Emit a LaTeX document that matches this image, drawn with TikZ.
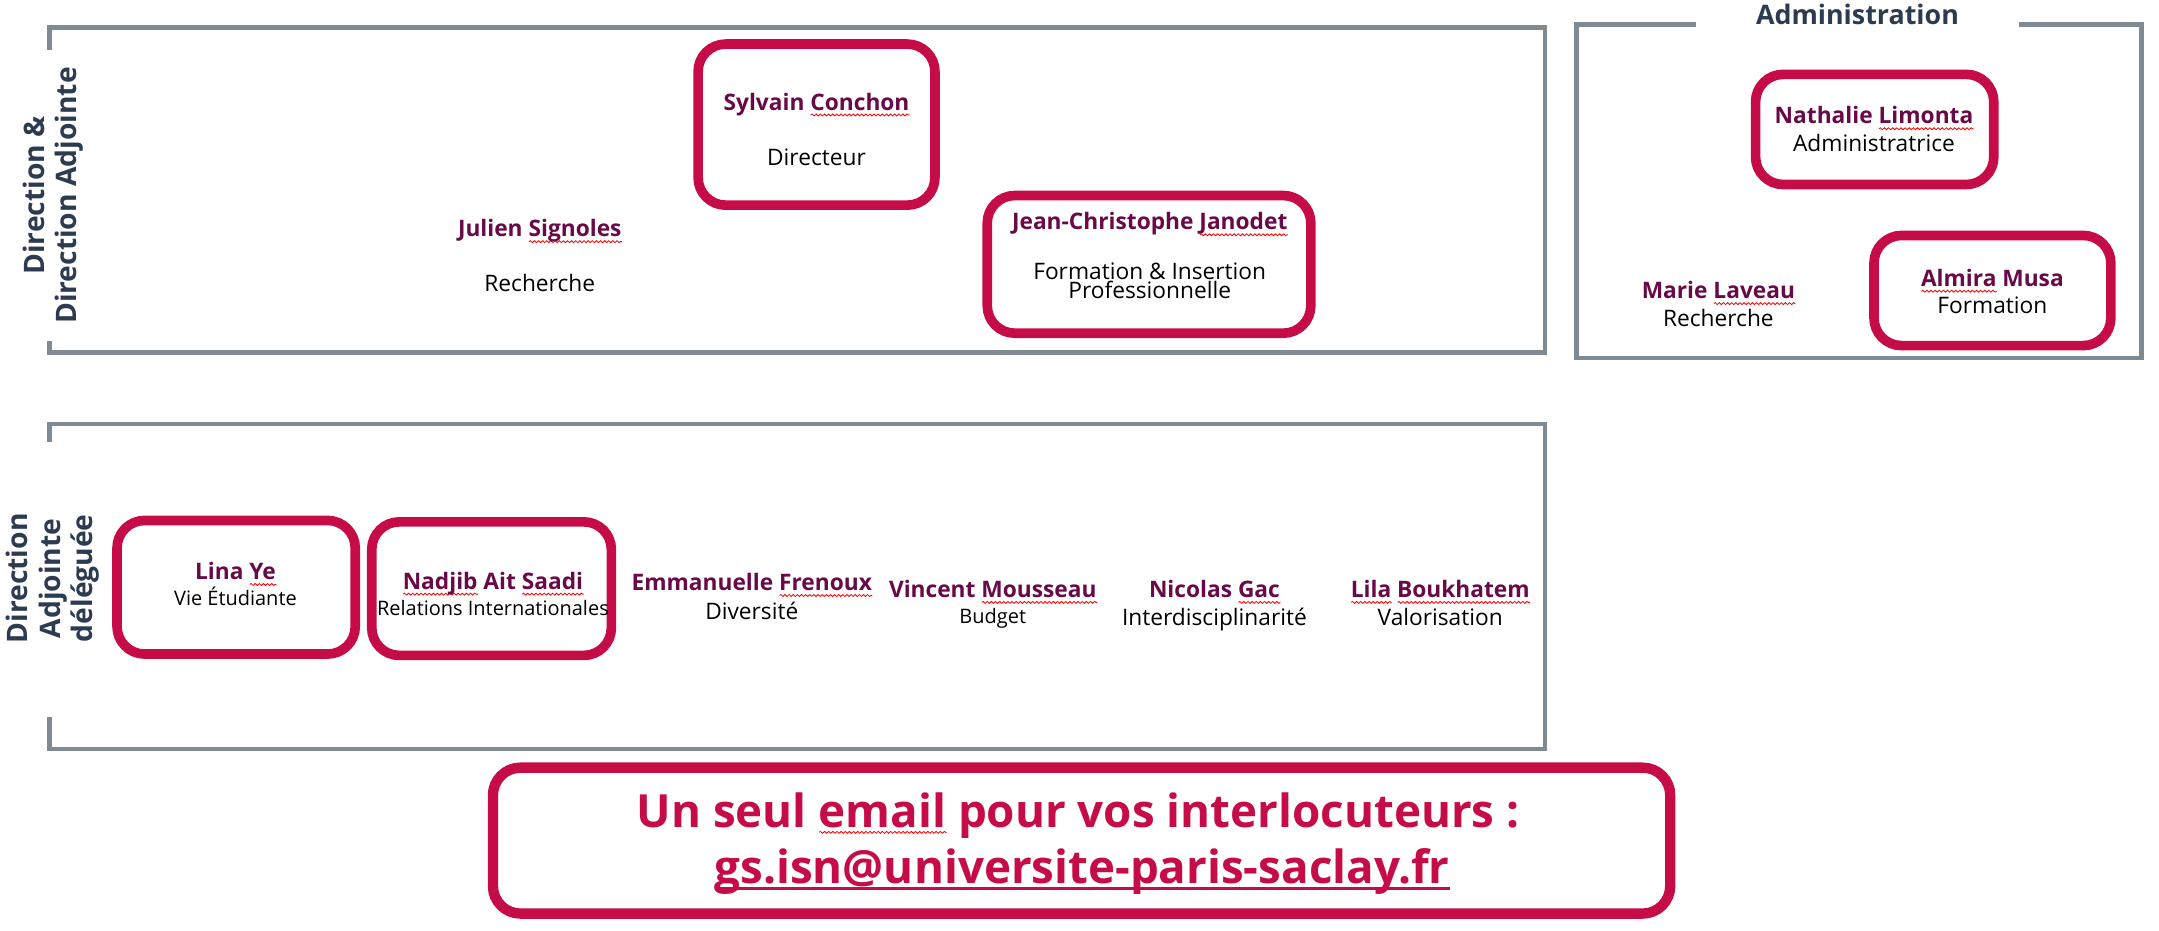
\documentclass[tikz,border=0pt]{standalone}
\usepackage{fontspec}
\setmainfont{Open Sans}
\usetikzlibrary{decorations.pathmorphing}
\definecolor{crim}{HTML}{C60C46}
\definecolor{namec}{HTML}{680A47}
\definecolor{slate}{HTML}{2C3B50}
\definecolor{framec}{HTML}{7F8A93}
\newlength\sqw
\newcommand\sq[1]{\settowidth\sqw{#1}\leavevmode\rlap{\tikz[baseline=0pt]\draw[red,line width=0.6pt,decorate,decoration={snake,amplitude=0.7pt,segment length=3pt}] (0pt,-3.5pt) -- (\sqw,-3.5pt);}#1}
\newcommand\ul[1]{\settowidth\sqw{#1}\leavevmode\rlap{\rule[-4.5pt]{\sqw}{2.2pt}}#1}
\tikzset{
  frame/.style={draw=framec, line width=3.5pt},
  rbox/.style={draw=crim, line width=7pt, rounded corners=20pt, inner sep=0pt},
  pname/.style={font=\bfseries\fontsize{16.5}{18}\selectfont, text=namec, inner sep=0pt, anchor=base},
  prole/.style={font=\fontsize{16.5}{18}\selectfont, text=black, inner sep=0pt, anchor=base},
  psmall/.style={font=\fontsize{14.5}{16}\selectfont, text=black, inner sep=0pt, anchor=base},
  vlabel/.style={font=\bfseries\fontsize{20.5}{23.5}\selectfont, text=slate, rotate=90, align=center, inner sep=0pt},
  mail/.style={font=\bfseries\fontsize{33.2}{40}\selectfont, text=crim, inner sep=0pt, anchor=base},
}
\begin{document}
\begin{tikzpicture}[x=1pt, y=-1pt]
\useasboundingbox (0,0) rectangle (1568,676);
% frames
\coordinate (f1a) at (36,36);
\coordinate (f1b) at (36,20);
\coordinate (f1c) at (1122,20);
\coordinate (f1d) at (1122,256);
\coordinate (f1e) at (36,256);
\coordinate (f1f) at (36,248);
\draw[frame] (f1a) -- (f1b) -- (f1c) -- (f1d) -- (f1e) -- (f1f);
\coordinate (f2a) at (36,321);
\coordinate (f2b) at (36,308);
\coordinate (f2c) at (1122,308);
\coordinate (f2d) at (1122,544);
\coordinate (f2e) at (36,544);
\coordinate (f2f) at (36,521);
\draw[frame] (f2a) -- (f2b) -- (f2c) -- (f2d) -- (f2e) -- (f2f);
\coordinate (f3a) at (1232,18);
\coordinate (f3b) at (1145,18);
\coordinate (f3c) at (1145,260);
\coordinate (f3d) at (1555,260);
\coordinate (f3e) at (1555,18);
\coordinate (f3f) at (1466,18);
\draw[frame] (f3a) -- (f3b) -- (f3c) -- (f3d) -- (f3e) -- (f3f);
% labels
\node[vlabel] (lab1) at (38.5,142) {Direction \&\\Direction Adjointe};
\node[vlabel] (lab2) at (38.5,420) {Direction\\Adjointe\\déléguée};
\node[font=\bfseries\fontsize{19.5}{22}\selectfont, text=slate, inner sep=0pt, anchor=base] (adm) at (1349,18) {Administration};
% red boxes
\node[rbox, minimum width=172pt, minimum height=117pt] (bsc) at (593,90.5) {};
\node[rbox, minimum width=235pt, minimum height=100pt] (bjc) at (834.5,192) {};
\node[rbox, minimum width=173pt, minimum height=80pt] (bnl) at (1361.5,94) {};
\node[rbox, minimum width=172pt, minimum height=80pt] (bam) at (1447,211) {};
\node[rbox, minimum width=173pt, minimum height=97pt] (bly) at (171.5,426.5) {};
\node[rbox, minimum width=174pt, minimum height=97pt] (bna) at (357,427.5) {};
\node[rbox, line width=7.5pt, minimum width=855pt, minimum height=106pt] (bem) at (785.5,610.5) {};
% people
\node[pname] (n1) at (593,80) {Sylvain \sq{Conchon}};
\node[prole] (r1) at (593,120) {Directeur};
\node[pname] (n2) at (392,172) {Julien \sq{Signoles}};
\node[prole] (r2) at (392,212) {Recherche};
\node[pname] (n3) at (835,167) {Jean-Christophe \sq{Janodet}};
\node[prole] (r3a) at (835,203) {Formation \& Insertion};
\node[prole] (r3b) at (835,217) {Professionnelle};
\node[pname] (n4) at (1361,90) {Nathalie \sq{Limonta}};
\node[prole] (r4) at (1361,110) {Administratrice};
\node[pname] (n5) at (1248,217) {Marie \sq{Laveau}};
\node[prole] (r5) at (1248,237) {Recherche};
\node[pname] (n6) at (1447,208) {\sq{Almira} Musa};
\node[prole] (r6) at (1447,228) {Formation};
\node[pname] (n7) at (171,421) {Lina \sq{Ye}};
\node[psmall] (r7) at (171,440) {Vie Étudiante};
\node[pname] (n8) at (358,428) {\sq{Nadjib} Ait \sq{Saadi}};
\node[psmall] (r8) at (358,447) {Relations Internationales};
\node[pname] (n9) at (546,429) {Emmanuelle \sq{Frenoux}};
\node[prole] (r9) at (546,450) {Diversité};
\node[pname] (n10) at (721,434) {Vincent \sq{Mousseau}};
\node[psmall] (r10) at (721,453) {Budget};
\node[pname] (n11) at (882,434) {Nicolas \sq{Gac}};
\node[prole] (r11) at (882,454) {Interdisciplinarité};
\node[pname] (n12) at (1046,434) {\sq{Lila} \sq{Boukhatem}};
\node[prole] (r12) at (1046,454) {Valorisation};
% email
\node[mail] (em1) at (783,601) {Un seul \sq{email} pour vos interlocuteurs :};
\node[mail] (em2) at (786,642) {\ul{gs.isn@universite-paris-saclay.fr}};
\end{tikzpicture}
\end{document}
